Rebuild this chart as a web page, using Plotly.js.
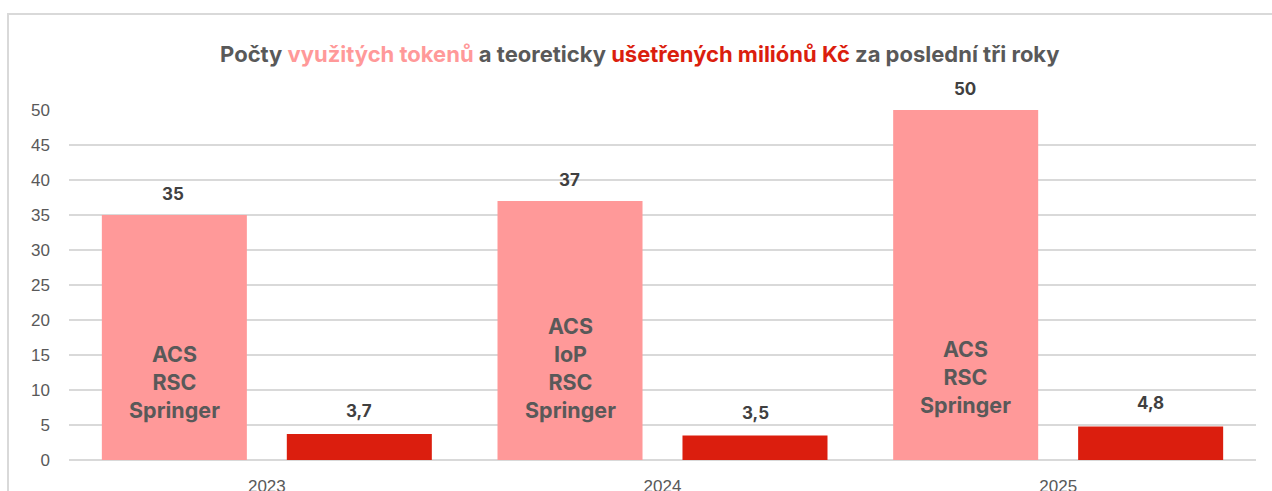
<!DOCTYPE html>
<html>
<head>
<meta charset="utf-8">
<script src="https://cdn.plot.ly/plotly-3.0.1.min.js"></script>
<style>
  html, body { margin: 0; padding: 0; background: #ffffff; }
  #chart { width: 1272px; height: 491px; }
</style>
</head>
<body>
<div id="chart"></div>
<script>
// ---- data ----
var years = ['2023', '2024', '2025'];
var tokens = [35, 37, 50];
var millions = [3.7, 3.5, 4.8];
var publishers = [
  ['ACS', 'RSC', 'Springer'],
  ['ACS', 'IoP', 'RSC', 'Springer'],
  ['ACS', 'RSC', 'Springer']
];
var yTicks = [0, 5, 10, 15, 20, 25, 30, 35, 40, 45, 50];

// ---- styles ----
var PINK = '#FF9999';
var RED = '#DB1E0E';
var GRAY = '#595959';
var DARK = '#404040';
var labelFont = 'Inter, "Open Sans", "Liberation Sans", sans-serif';
var publisherLabelY = [11.1, 13.1, 11.8]; // vertical placement of publisher text inside pink bars
var pairShift = 92.5; // horizontal offset of each bar inside its year group, px

function fmt(v) { return String(v).replace('.', ','); }

var traces = [
  { type: 'bar', x: years, y: tokens, name: 'Tokeny',
    marker: { color: PINK }, hoverinfo: 'x+y' },
  { type: 'bar', x: years, y: millions, name: 'Miliony Kč',
    marker: { color: RED }, hoverinfo: 'x+y' }
];

var annotations = [];
years.forEach(function (yr, i) {
  annotations.push({ x: i, y: tokens[i], xref: 'x', yref: 'y', text: '<b>' + fmt(tokens[i]) + '</b>',
    showarrow: false, xshift: -pairShift - 1, yshift: 21, yanchor: 'middle',
    font: { family: labelFont, size: 17, color: DARK } });
  annotations.push({ x: i, y: millions[i], xref: 'x', yref: 'y', text: '<b>' + fmt(millions[i]) + '</b>',
    showarrow: false, xshift: pairShift, yshift: 23, yanchor: 'middle',
    font: { family: labelFont, size: 17, color: DARK } });
  annotations.push({ x: i, y: publisherLabelY[i], xref: 'x', yref: 'y',
    text: '<b>' + publishers[i].join('<br>') + '</b>',
    showarrow: false, xshift: -pairShift, yanchor: 'middle', align: 'center',
    font: { family: labelFont, size: 21.5, color: GRAY } });
});

var layout = {
  width: 1272, height: 491,
  margin: { l: 69, r: 16, t: 110, b: 31, pad: 0 },
  paper_bgcolor: '#ffffff', plot_bgcolor: '#ffffff',
  showlegend: false,
  barmode: 'group', bargap: 0.065, bargroupgap: 0.216,
  title: {
    text: '<b>Počty <span style="color:' + PINK + '">využitých tokenů</span> a teoreticky ' +
          '<span style="color:' + RED + '">ušetřených miliónů Kč</span> za poslední tři roky</b>',
    font: { family: labelFont, size: 22, color: GRAY },
    xref: 'container', x: 0.503, xanchor: 'center',
    yref: 'container', y: 1 - 54 / 491, yanchor: 'middle'
  },
  xaxis: {
    type: 'category', range: [-0.5, 2.5], autorange: false,
    showgrid: false, zeroline: false, showline: false,
    ticks: '', ticklabelstandoff: 14,
    tickfont: { family: '"Liberation Sans", Arial, sans-serif', size: 17, color: GRAY }
  },
  yaxis: {
    range: [0, 50], autorange: false, tickvals: yTicks, ticktext: yTicks.map(String),
    showgrid: true, gridcolor: '#D9D9D9', gridwidth: 1.5,
    zeroline: true, zerolinecolor: '#D9D9D9', zerolinewidth: 1.5,
    showline: false, ticks: '', ticklabelstandoff: 18,
    tickfont: { family: '"Liberation Sans", Arial, sans-serif', size: 17, color: GRAY }
  },
  annotations: annotations,
  shapes: [{
    type: 'rect', xref: 'paper', yref: 'paper', layer: 'below',
    x0: (8 - 69) / 1187, x1: 1.2, y0: -0.3, y1: (460 - 14) / 350,
    line: { color: '#D9D9D9', width: 2 }, fillcolor: 'rgba(0,0,0,0)'
  }]
};

Plotly.newPlot('chart', traces, layout, { displayModeBar: false, staticPlot: true });
</script>
</body>
</html>
